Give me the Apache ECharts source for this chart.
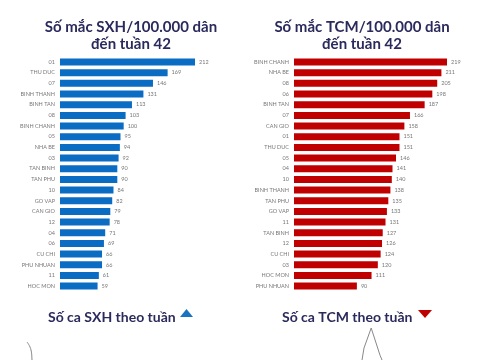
<!DOCTYPE html>
<html><head><meta charset="utf-8">
<script src="https://cdn.jsdelivr.net/npm/echarts@6/dist/echarts.min.js"></script>
<style>html,body{margin:0;padding:0;background:#fff}#c{width:480px;height:360px}</style>
</head><body><div id="c"></div>
<script>
var sxhCategories = ['01','THU DUC','07','BINH THANH','BINH TAN','08','BINH CHANH','05','NHA BE','03','TAN BINH','TAN PHU','10','GO VAP','CAN GIO','12','04','06','CU CHI','PHU NHUAN','11','HOC MON'];
var sxhValues = [212,169,146,131,113,103,100,95,94,92,90,90,84,82,79,78,71,69,66,66,61,59];
var tcmCategories = ['BINH CHANH','NHA BE','08','06','BINH TAN','07','CAN GIO','01','THU DUC','05','04','10','BINH THANH','TAN PHU','GO VAP','11','TAN BINH','12','CU CHI','03','HOC MON','PHU NHUAN'];
var tcmValues = [219,211,205,198,187,166,158,151,151,146,141,140,138,135,133,131,127,126,124,120,111,90];
var sxhWeekly = [[3.5,45],[5.5,25],[6,0],[6.2,-30]];
var tcmWeekly = [[0,-20],[0.5,0],[1,30],[2.8,80],[5,12],[5.5,0],[8,-30],[13.5,-10],[14.2,5],[15,-5]];

var titleColor = '#2b2a5c';
var font = 'Lato';
var chart = echarts.init(document.getElementById('c'));
function barCat(idx, cats){
  return {type:'category', gridIndex:idx, data:cats, inverse:true,
    axisLine:{show:false}, axisTick:{show:false},
    axisLabel:{fontSize:5.5, color:'#777', margin:5, fontFamily:font}};
}
function barVal(idx, max){
  return {type:'value', gridIndex:idx, min:0, max:max, show:false, splitLine:{show:false}};
}
chart.setOption({
  animation:false,
  textStyle:{fontFamily:font},
  title:[
    {text:'Số mắc SXH/100.000 dân\nđến tuần 42', left:126, top:14, textAlign:'center',
     textStyle:{fontSize:15, fontWeight:'bold', color:titleColor, lineHeight:17, fontFamily:font}},
    {text:'Số mắc TCM/100.000 dân\nđến tuần 42', left:357, top:14, textAlign:'center',
     textStyle:{fontSize:15, fontWeight:'bold', color:titleColor, lineHeight:17, fontFamily:font}},
    {text:'Số ca SXH theo tuần', left:43, top:305,
     textStyle:{fontSize:14, fontWeight:'bold', color:titleColor, fontFamily:font}},
    {text:'Số ca TCM theo tuần', left:277, top:305,
     textStyle:{fontSize:14, fontWeight:'bold', color:titleColor, fontFamily:font}}
  ],
  graphic:[
    {type:'polygon', shape:{points:[[180,317],[193,317],[186.5,309]]}, style:{fill:'#1a73c0'}},
    {type:'polygon', shape:{points:[[418,310],[432,310],[425,318]]}, style:{fill:'#c00000'}}
  ],
  grid:[
    {left:60, top:56.7, width:135, height:234.7},
    {left:294, top:56.7, width:153, height:234.7},
    {left:20, top:320, width:20, height:40},
    {left:360, top:320, width:40, height:40}
  ],
  yAxis:[barCat(0,sxhCategories), barCat(1,tcmCategories),
    {type:'value', gridIndex:2, min:0, max:100, show:false},
    {type:'value', gridIndex:3, min:0, max:100, show:false}],
  xAxis:[barVal(0,212), barVal(1,219),
    {type:'value', gridIndex:2, min:0, max:10, show:false},
    {type:'value', gridIndex:3, min:0, max:10, show:false}],
  series:[
    {type:'bar', xAxisIndex:0, yAxisIndex:0, data:sxhValues, barWidth:7,
     itemStyle:{color:'#0a6cc2'},
     label:{show:true, position:'right', fontSize:5.5, color:'#777', distance:4}},
    {type:'bar', xAxisIndex:1, yAxisIndex:1, data:tcmValues, barWidth:7,
     itemStyle:{color:'#c00000'},
     label:{show:true, position:'right', fontSize:5.5, color:'#777', distance:4}},
    {type:'line', xAxisIndex:2, yAxisIndex:2, data:sxhWeekly, smooth:true, symbol:'none', clip:false,
     lineStyle:{color:'#888', width:1}},
    {type:'line', xAxisIndex:3, yAxisIndex:3, data:tcmWeekly, symbol:'none', clip:false,
     lineStyle:{color:'#888', width:1}}
  ]
});
</script></body></html>
